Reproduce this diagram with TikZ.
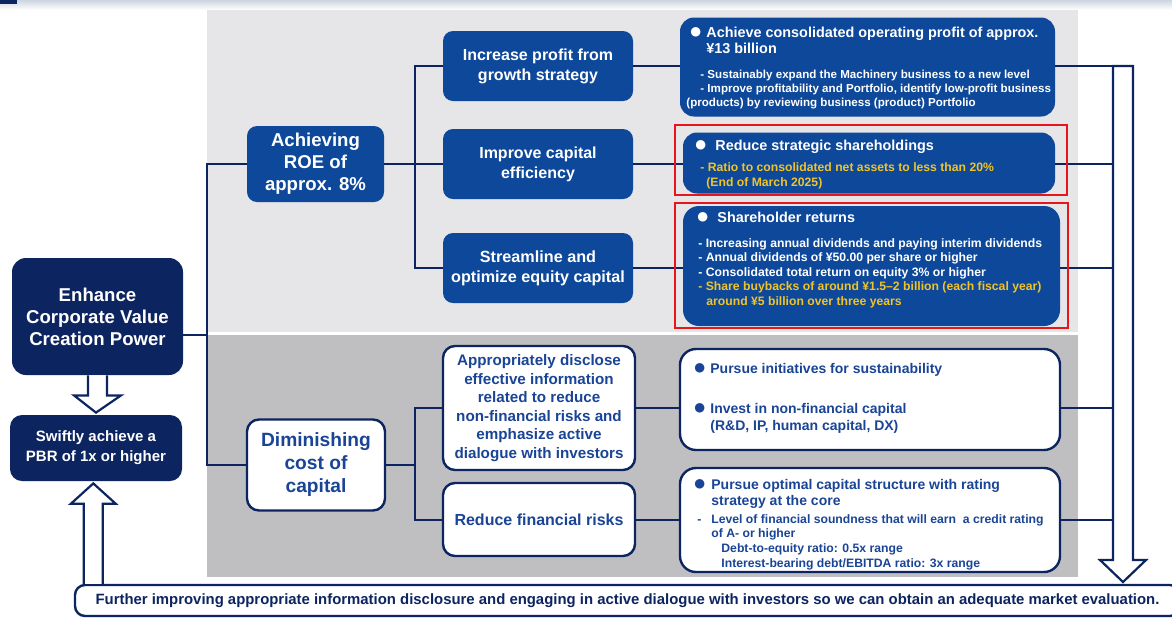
\documentclass[tikz,border=0pt]{standalone}
\usepackage{fontspec}
\setmainfont{Liberation Sans}
\newfontfamily\symf{DejaVu Sans}
\usetikzlibrary{calc}

\definecolor{navy}{RGB}{12,36,96}
\definecolor{midblue}{RGB}{13,72,154}
\definecolor{txtblue}{RGB}{26,68,150}
\definecolor{panelA}{RGB}{230,229,232}
\definecolor{panelB}{RGB}{191,191,193}
\definecolor{gold}{RGB}{240,196,40}
\definecolor{alert}{RGB}{232,22,27}
\definecolor{strip}{RGB}{205,213,224}

\newcommand{\sz}[2]{\fontsize{#1}{#2}\selectfont\bfseries}
\newcommand{\bul}[1]{\makebox[#1][l]{\raisebox{0.7pt}{\symf\fontsize{6.2}{6}\selectfont ●}}}

\tikzset{
  darkbox/.style={rounded corners=7pt, fill=navy, text=white, align=center},
  bluebox/.style={rounded corners=5pt, fill=midblue, text=white, align=center},
  wbox/.style={rounded corners=6pt, draw=navy, line width=1.2pt, fill=white, text=txtblue, align=center},
  listtext/.style={anchor=north west, inner sep=0pt, align=left},
  link/.style={draw=navy, line width=1pt},
  hollow/.style={draw=navy, line width=1.1pt, fill=white},
  redbox/.style={draw=alert, line width=1pt},
}

\begin{document}
\begin{tikzpicture}[x=0.5pt, y=-0.5pt]
\useasboundingbox (0,0) rectangle (1172,617);
% header strip and panels
\shade[top color=strip, bottom color=white] (0,0) rectangle (1172,10);
\fill[navy] (0,0) rectangle (17,3.5);
\fill[panelA] (207,10) rectangle (1078,332);
\fill[panelB] (207,335) rectangle (1078,577);

\coordinate (trunk) at (207,0);
\coordinate (fork) at (415,0);
\coordinate (rail) at (1113,0);

% left column
\node[darkbox, minimum width=85.5pt, minimum height=58.5pt, font=\sz{9.3}{11}] (enh) at (97.5,316.5) {Enhance\\Corporate Value\\Creation Power};
\node[darkbox, rounded corners=6pt, minimum width=86pt, minimum height=33pt, font=\sz{7.5}{10}] (pbr) at (96,448) {Swiftly achieve a\\PBR of 1x or higher};

% first level
\node[bluebox, minimum width=68.5pt, minimum height=38pt, font=\sz{9.3}{11}] (roe) at (315.5,164) {Achieving\\ROE of\\approx. 8\%};
\node[wbox, minimum width=69pt, minimum height=45.5pt, font=\sz{9.6}{11.5}] (dim) at (316,465) {Diminishing\\cost of\\capital};

% second level
\node[bluebox, minimum width=95pt, minimum height=35pt, font=\sz{8}{10}] (ipg) at (538,66) {Increase profit from\\growth strategy};
\node[bluebox, minimum width=95pt, minimum height=35pt, font=\sz{8}{10}] (ice) at (538,164) {Improve capital\\efficiency};
\node[bluebox, minimum width=95pt, minimum height=35pt, font=\sz{8.1}{10}] (seq) at (538,268) {Streamline and\\optimize equity capital};
\node[wbox, minimum width=96pt, minimum height=62pt, font=\sz{7.6}{9.25}] (adi) at (539,408) {Appropriately disclose\\effective information\\related to reduce\\non-financial risks and\\emphasize active\\dialogue with investors};
\node[wbox, minimum width=96pt, minimum height=36.5pt, font=\sz{8}{10}] (rfr) at (539,519.5) {Reduce financial risks};

% third level boxes
\node[bluebox, rounded corners=7pt, minimum width=187.5pt, minimum height=49.5pt] (acp) at (867.5,67) {};
\node[bluebox, rounded corners=7pt, minimum width=186pt, minimum height=30.5pt] (rss) at (869,163) {};
\node[bluebox, rounded corners=8pt, minimum width=188.5pt, minimum height=60pt] (shr) at (871.5,266) {};
\node[wbox, rounded corners=8pt, minimum width=190pt, minimum height=50.5pt] (psi) at (870,399.5) {};
\node[wbox, rounded corners=8pt, minimum width=190pt, minimum height=52pt] (poc) at (870,520) {};

\node[listtext, text=white, font=\sz{5.8}{7}] (acptxt) at (686,26.5) {\hspace*{2pt}{\sz{7.2}{8}\bul{8pt}Achieve consolidated operating profit of approx.}\\[1pt]
\hspace*{10pt}{\sz{7.2}{8}¥13 billion}\\[5.5pt]
\hspace*{7pt}- Sustainably expand the Machinery business to a new level\\
\hspace*{7pt}- Improve profitability and Portfolio, identify low-profit business\\
(products) by reviewing business (product) Portfolio};
\node[listtext, text=white, font=\sz{6.1}{7.5}] (rsstxt) at (695,139.5) {{\sz{7.2}{8}\bul{10pt}Reduce strategic shareholdings}\\[3pt]
\hspace*{2.5pt}\textcolor{gold}{- Ratio to consolidated net assets to less than 20\%}\\
\hspace*{5.5pt}\textcolor{gold}{(End of March 2025)}};
\node[listtext, text=white, font=\sz{6.1}{7.25}] (shrtxt) at (697,211.5) {{\sz{7.2}{8}\bul{10pt}Shareholder returns}\\[5.25pt]
\hspace*{0.5pt}- Increasing annual dividends and paying interim dividends\\
\hspace*{0.5pt}- Annual dividends of ¥50.00 per share or higher\\
\hspace*{0.5pt}- Consolidated total return on equity 3\% or higher\\
\hspace*{0.5pt}\textcolor{gold}{- Share buybacks of around ¥1.5–2 billion (each fiscal year)}\\
\hspace*{4.5pt}\textcolor{gold}{around ¥5 billion over three years}};
\node[listtext, text=txtblue, font=\sz{7}{8.5}] (psitxt) at (694,362.5) {\bul{8pt}Pursue initiatives for sustainability\\[11.5pt]
\bul{8pt}Invest in non-financial capital\\
\hspace*{8pt}(R\&D, IP, human capital, DX)};
\node[listtext, text=txtblue, font=\sz{6.1}{7.25}] (poctxt) at (694,478.5) {{\sz{7}{8}\bul{8.5pt}Pursue optimal capital structure with rating}\\[0.75pt]
{\sz{7}{8}\hspace*{8.5pt}strategy at the core}\\[1.75pt]
\hspace*{1.5pt}\makebox[7pt][l]{-}Level of financial soundness that will earn\ \ a credit rating\\
\hspace*{8.5pt}of A- or higher\\[0.25pt]
\hspace*{13.5pt}Debt-to-equity ratio: 0.5x range\\
\hspace*{13.5pt}Interest-bearing debt/EBITDA ratio: 3x range};

% footer
\node[draw=navy, line width=1.2pt, fill=white, rounded corners=5pt, minimum width=552.5pt, minimum height=15.5pt, font=\sz{7.45}{9}, text=navy] (foot) at (627.5,600.5) {Further improving appropriate information disclosure and engaging in active dialogue with investors so we can obtain an adequate market evaluation.};
\coordinate (upx) at ($(foot.north west)+(19.5,0)$);

% tree lines
\draw[link] ($(enh.east)+(0,18)$) -- ($(enh.east -| trunk)+(0,18)$);
\draw[link] (roe.west) -| (trunk |- dim.west) -- (dim.west);
\draw[link] (roe.east) -- (ice.west);
\draw[link] (ipg.west) -| (fork |- seq.west) -- (seq.west);
\draw[link] (dim.east) -- (dim.east -| fork);
\draw[link] (adi.west) -| (fork |- rfr.west) -- (rfr.west);
\draw[link] (ipg.east) -- (ipg.east -| acp.west);
\draw[link] (ice.east) -- (ice.east -| rss.west);
\draw[link] (seq.east) -- (seq.east -| shr.west);
\draw[link] (adi.east) -- (adi.east -| psi.west);
\draw[link] (rfr.east) -- (rfr.east -| poc.west);
\draw[link] (acp.east |- ipg.east) -- (rail |- ipg.east);
\draw[link] (rss.east |- ice.east) -- (rail |- ice.east);
\draw[link] (shr.east |- seq.east) -- (rail |- seq.east);
\draw[link] (psi.east |- adi.east) -- (rail |- adi.east);
\draw[link] (poc.east |- rfr.east) -- (rail |- rfr.east);

% red frames
\draw[redbox] (675,125) rectangle (1067,195);
\draw[redbox] (675,203) rectangle (1068,328);

% block arrows
\draw[hollow] ($(enh.south)+(-9.5,0)$) -- ($(enh.south)+(-9.5,20)$) -- ($(enh.south)+(-23.5,20)$) -- ($(pbr.north)+(0,-2)$) -- ($(enh.south)+(23.5,20)$) -- ($(enh.south)+(9.5,20)$) -- ($(enh.south)+(9.5,0)$);
\draw[hollow] ($(upx)+(-9.5,0)$) -- ($(upx)+(-9.5,-80)$) -- ($(upx)+(-22.5,-80)$) -- ($(upx |- pbr.south)+(0,2)$) -- ($(upx)+(22.5,-80)$) -- ($(upx)+(9.5,-80)$) -- ($(upx)+(9.5,0)$);
\draw[hollow] (rail |- ipg.east) -- ++(20,0) -- ++(0,494) -- ++(13,0) -- ++(-23,22) -- ++(-23,-22) -- ++(13,0) -- cycle;
\end{tikzpicture}
\end{document}
